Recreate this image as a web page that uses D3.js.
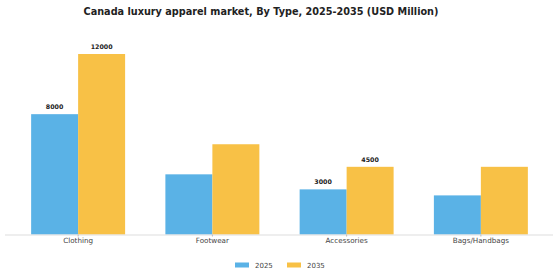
<!DOCTYPE html>
<html>
<head>
<meta charset="utf-8">
<script src="https://cdn.jsdelivr.net/npm/d3@7"></script>
<style>
  body { margin: 0; background: #fff; }
  text { font-family: "DejaVu Sans", sans-serif; }
</style>
</head>
<body>
<div id="chart"></div>
<script>
const categories = ["Clothing", "Footwear", "Accessories", "Bags/Handbags"];
const years = ["2025", "2035"];
const values2025 = [8000, 4000, 3000, 2600];
const values2035 = [12000, 6000, 4500, 4500];
// which bars carry a value label
const labels2025 = [8000, null, 3000, null];
const labels2035 = [12000, null, 4500, null];

const width = 560, height = 280;
const baseline = 234.5;

const colors = { "2025": "#5AB2E6", "2035": "#F8C146" };

const svg = d3.select("#chart")
  .append("svg")
  .attr("width", width)
  .attr("height", height);

// title
svg.append("text")
  .attr("x", 261)
  .attr("y", 14.5)
  .attr("text-anchor", "middle")
  .attr("font-size", 9.7)
  .attr("font-weight", "bold")
  .attr("fill", "#222")
  .text("Canada luxury apparel market, By Type, 2025-2035 (USD Million)");

// scales
const x0 = d3.scaleBand()
  .domain(categories)
  .range([11, 548])
  .paddingInner(0.3)
  .paddingOuter(0.15);

const x1 = d3.scaleBand()
  .domain(years)
  .range([0, x0.bandwidth()]);

const y = d3.scaleLinear()
  .domain([0, 12000])
  .range([baseline, 54]);

const rows = categories.map((c, i) => ({
  cat: c,
  bars: [
    { year: "2025", value: values2025[i], label: labels2025[i] },
    { year: "2035", value: values2035[i], label: labels2035[i] }
  ]
}));

const groups = svg.selectAll("g.group")
  .data(rows)
  .enter()
  .append("g")
  .attr("class", "group")
  .attr("transform", d => `translate(${x0(d.cat)}, 0)`);

groups.selectAll("rect")
  .data(d => d.bars)
  .enter()
  .append("rect")
  .attr("x", d => x1(d.year))
  .attr("y", d => y(d.value))
  .attr("width", x1.bandwidth())
  .attr("height", d => baseline - y(d.value))
  .attr("fill", d => colors[d.year]);

groups.selectAll("text.val")
  .data(d => d.bars.filter(b => b.label !== null))
  .enter()
  .append("text")
  .attr("class", "val")
  .attr("x", d => x1(d.year) + x1.bandwidth() / 2)
  .attr("y", d => y(d.value) - 5)
  .attr("text-anchor", "middle")
  .attr("font-size", 6.3)
  .attr("font-weight", "bold")
  .attr("fill", "#222")
  .text(d => d.label);

// x axis
const xAxis = svg.append("g")
  .attr("transform", `translate(0, ${baseline})`)
  .call(d3.axisBottom(x0).tickSize(2).tickSizeOuter(0));

xAxis.select(".domain")
  .attr("stroke", "#ddd")
  .attr("d", "M5,0.5H553");

xAxis.selectAll(".tick line").attr("stroke", "#bbb");

xAxis.selectAll(".tick text")
  .attr("font-family", "DejaVu Sans, sans-serif")
  .attr("font-size", 7.2)
  .attr("fill", "#444")
  .attr("dy", "0.55em");

// legend
const legend = svg.append("g")
  .attr("transform", "translate(235, 265)");

years.forEach((yr, i) => {
  const row = legend.append("g")
    .attr("transform", `translate(${i * 52}, 0)`);

  row.append("rect")
    .attr("y", -2.5)
    .attr("width", 14)
    .attr("height", 5)
    .attr("fill", colors[yr]);

  row.append("text")
    .attr("x", 20)
    .attr("y", 2.5)
    .attr("font-size", 7)
    .attr("fill", "#444")
    .text(yr);
});
</script>
</body>
</html>
